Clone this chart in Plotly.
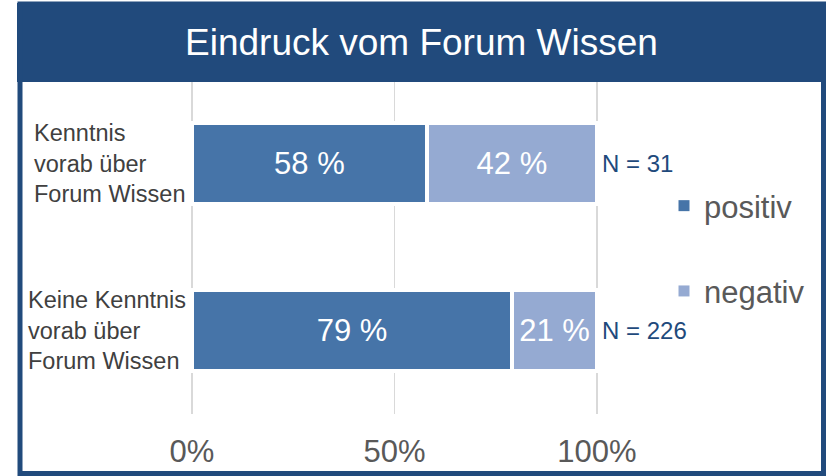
import plotly.graph_objects as go

# ---- data ----
categories = ["Kenntnis<br>vorab über<br>Forum Wissen",
              "Keine Kenntnis<br>vorab über<br>Forum Wissen"]
positiv = [58, 79]
negativ = [42, 21]
n_values = [31, 226]
tick_vals = [0, 50, 100]
tick_text = ["0%", "50%", "100%"]
title_text = "Eindruck vom Forum Wissen"

W, H = 828, 476
def px(xp): return xp / W
def py(yp): return 1 - yp / H

C_POS = "#4674a8"
C_NEG = "#95aad2"
C_DARK = "#214a7c"
C_GRAY = "#595959"
FONT = "Liberation Sans, Arial, sans-serif"

fig = go.Figure()
for vals, name, col in [(positiv, "positiv", C_POS), (negativ, "negativ", C_NEG)]:
    fig.add_trace(go.Bar(
        y=categories, x=vals, name=name, orientation="h",
        marker=dict(color=col, line=dict(color="white", width=4)),
        texttemplate="%{x} %", textposition="inside", insidetextanchor="middle",
        textfont=dict(color="white", size=31, family=FONT),
        showlegend=False, width=0.49, hoverinfo="skip"))
# legend entries
for name, col, grp in [("positiv", C_POS, "a"), ("negativ", C_NEG, "b")]:
    fig.add_trace(go.Scatter(
        x=[None], y=[None], mode="markers", name=name,
        marker=dict(symbol="square", size=11, color=col),
        legendgroup=grp, showlegend=True, hoverinfo="skip"))

annotations = []
# category labels (left aligned)
label_x = [32, 26]
for cat, lx in zip(categories, label_x):
    annotations.append(dict(
        x=px(lx), xref="paper", y=cat, yref="y", xanchor="left", yanchor="middle",
        text=cat, align="left", showarrow=False,
        font=dict(size=23.5, color="#404040", family=FONT)))
# N labels
for cat, p, n, nv in zip(categories, positiv, negativ, n_values):
    annotations.append(dict(
        x=p + n, xref="x", y=cat, yref="y", xanchor="left", yanchor="middle",
        xshift=3, text=f"N = {nv}", showarrow=False,
        font=dict(size=24, color="#1f4a7c", family=FONT)))
# title
annotations.append(dict(
    x=px(421.5), xref="paper", y=py(42), yref="paper", xanchor="center",
    yanchor="middle", text=title_text, showarrow=False,
    font=dict(size=37, color="white", family=FONT)))

shapes = [
    dict(type="rect", xref="paper", yref="paper",
         x0=px(17), x1=px(826), y0=py(3), y1=py(82),
         fillcolor=C_DARK, line=dict(width=0), layer="above"),
    dict(type="rect", xref="paper", yref="paper",
         x0=px(20), x1=px(823.5), y0=py(4), y1=py(473.5),
         fillcolor="rgba(0,0,0,0)", line=dict(color=C_DARK, width=5),
         layer="above"),
]

# x axis: 0 -> 192px, 100 -> 597px ; range padded by 1 unit each side
pad_px = 405 / 100
fig.update_layout(
    width=W, height=H,
    margin=dict(l=0, r=0, t=0, b=0, autoexpand=False),
    paper_bgcolor="white", plot_bgcolor="white",
    barmode="stack",
    showlegend=True,
    legend=dict(x=px(664), y=py(179), xanchor="left", yanchor="top",
                font=dict(size=31, color=C_GRAY, family=FONT),
                traceorder="grouped", tracegroupgap=42,
                bgcolor="rgba(0,0,0,0)"),
    xaxis=dict(domain=[px(192 - pad_px), px(597 + pad_px)], range=[-1, 101],
               tickvals=tick_vals, ticktext=tick_text,
               showgrid=True, gridcolor="#d9d9d9", gridwidth=1.5,
               zeroline=False, showline=False, ticks="", automargin=False,
               tickfont=dict(size=31, color=C_GRAY, family=FONT),
               ticklabelstandoff=16, fixedrange=True),
    yaxis=dict(domain=[py(414), py(80)], autorange="reversed",
               categoryorder="array", categoryarray=categories,
               showticklabels=False, showgrid=False, zeroline=False,
               showline=False, ticks="", automargin=False, fixedrange=True),
    annotations=annotations,
    shapes=shapes,
)

fig.write_html("out.html",
               config={"displayModeBar": False, "staticPlot": True},
               post_script="document.body.style.margin='0';document.body.style.overflow='hidden';")
